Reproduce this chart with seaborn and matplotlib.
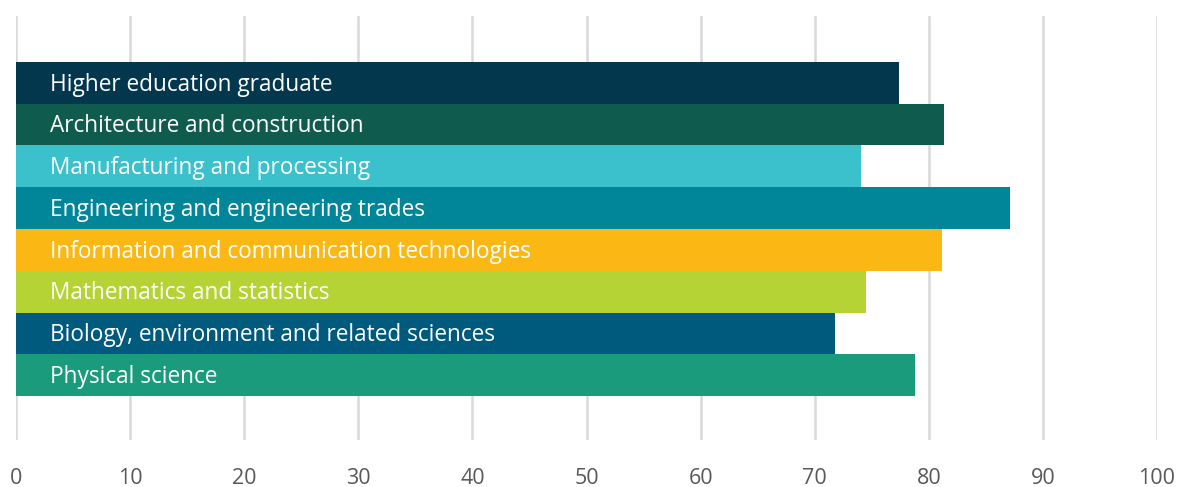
import matplotlib
matplotlib.use("Agg")
import matplotlib.pyplot as plt
import seaborn as sns
import pandas as pd

categories = [
    "Higher education graduate",
    "Architecture and construction",
    "Manufacturing and processing",
    "Engineering and engineering trades",
    "Information and communication technologies",
    "Mathematics and statistics",
    "Biology, environment and related sciences",
    "Physical science",
]
values = [77.4, 81.3, 74.1, 87.1, 81.2, 74.5, 71.8, 78.8]
colors = ["#02374e", "#0f5c4e", "#3ac1cc", "#008599",
          "#fbb814", "#b5d334", "#005a7d", "#1a9b7c"]
x_ticks = [0, 10, 20, 30, 40, 50, 60, 70, 80, 90, 100]

sns.set_theme(style="white")
plt.rcParams["font.family"] = ["Open Sans", "DejaVu Sans"]

df = pd.DataFrame({"field": categories, "share": values})

fig = plt.figure(figsize=(11.78, 4.87), dpi=100)
ax = fig.add_axes([16 / 1178, 47 / 487, (1157 - 16) / 1178, 424 / 487])

sns.barplot(data=df, y="field", x="share", hue="field", palette=colors,
            order=categories, hue_order=categories, dodge=False,
            width=1.0, orient="h", legend=False, saturation=1, ax=ax,
            linewidth=0, zorder=2)

# field names written inside each bar
for i, name in enumerate(categories):
    ax.text(3.0, i + 0.04, name, color="white", va="center", ha="left",
            fontsize=16.3, zorder=3)

ax.set_xlim(0, 100)
ax.set_ylim(8.55, -1.6)
ax.set_xticks(x_ticks)
ax.set_xticklabels([str(t) for t in x_ticks], color="#595959", fontsize=15.5)
ax.set_yticks([])
ax.set_xlabel("")
ax.set_ylabel("")
ax.grid(axis="x", color="#d9d9d9", linewidth=1.8, zorder=0)
ax.tick_params(axis="x", length=0, pad=20)
for s in ax.spines.values():
    s.set_visible(False)

fig.savefig("out.png", dpi=100)
